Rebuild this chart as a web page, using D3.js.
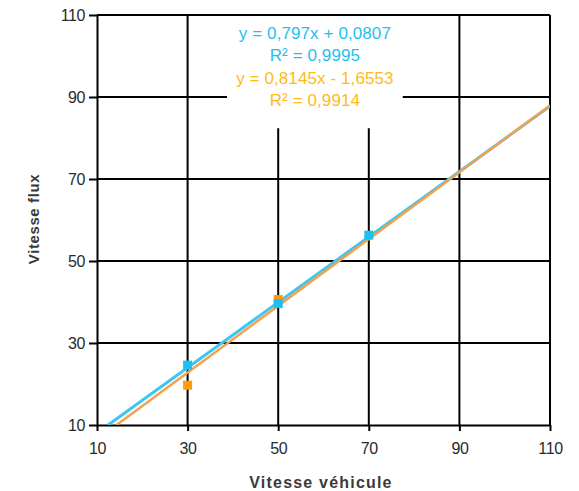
<!DOCTYPE html>
<html>
<head>
<meta charset="utf-8">
<script src="https://cdn.jsdelivr.net/npm/d3@7"></script>
<style>
  body { margin: 0; background: #fff; }
  svg { display: block; font-family: "Liberation Sans", Arial, sans-serif; }
</style>
</head>
<body>
<svg id="chart" width="579" height="491"></svg>
<script>
// data
let xTicks = [10, 30, 50, 70, 90, 110];
let yTicks = [10, 30, 50, 70, 90, 110];
let vehicule = [30, 50, 70];
let fluxBlue = [24.6, 39.6, 56.3];
let vehiculeOrange = [30, 50];
let fluxOrange = [19.7, 40.6];
let blueFit = {slope: 0.797, intercept: 0.0807};
let orangeFit = {slope: 0.8145, intercept: -1.6553};
let labelLines = [
    {text: "y = 0,797x + 0,0807", color: "#1fbff2"},
    {text: "R² = 0,9995", color: "#1fbff2"},
    {text: "y = 0,8145x - 1,6553", color: "#ffba1a"},
    {text: "R² = 0,9914", color: "#ffba1a"}
];

let svg = d3.select("svg#chart"),
    margin = {top: 15, right: 29, bottom: 66, left: 97},
    width = +svg.attr("width") - margin.left - margin.right,
    height = +svg.attr("height") - margin.top - margin.bottom,
    g = svg.append("g").attr("transform", "translate(" + margin.left + "," + margin.top + ")");

let x = d3.scaleLinear().domain([10, 110]).range([0, width]);
let y = d3.scaleLinear().domain([10, 110]).range([height, 0]);

// label box that hides part of the grid
let box = {x0: x(38.7), x1: x(77.5), y0: y(110), y1: y(82.4)};

// grid
let grid = g.append("g").attr("stroke", "#000").attr("stroke-width", 2);
xTicks.slice(1, -1).forEach(function(v) {
    let px = x(v);
    let top = (px > box.x0 && px < box.x1) ? box.y1 : 0;
    grid.append("line").attr("x1", px).attr("x2", px).attr("y1", top).attr("y2", height);
});
yTicks.slice(1, -1).forEach(function(v) {
    let py = y(v);
    if (py > box.y0 && py < box.y1) {
        grid.append("line").attr("x1", 0).attr("x2", box.x0).attr("y1", py).attr("y2", py);
        grid.append("line").attr("x1", box.x1).attr("x2", width).attr("y1", py).attr("y2", py);
    } else {
        grid.append("line").attr("x1", 0).attr("x2", width).attr("y1", py).attr("y2", py);
    }
});
// top and right border
grid.append("line").attr("x1", 0).attr("x2", width).attr("y1", 0).attr("y2", 0);
grid.append("line").attr("x1", width).attr("x2", width).attr("y1", 0).attr("y2", height);

// axes
let xAxis = g.append("g")
    .attr("transform", "translate(0," + height + ")")
    .call(d3.axisBottom(x).tickValues(xTicks).tickSize(6).tickSizeOuter(0));
let yAxis = g.append("g")
    .call(d3.axisLeft(y).tickValues(yTicks).tickSize(8).tickSizeOuter(0));
[xAxis, yAxis].forEach(function(a) {
    a.select(".domain").attr("stroke", "#000").attr("stroke-width", 2);
    a.selectAll(".tick line").attr("stroke", "#000").attr("stroke-width", 2);
    a.selectAll(".tick text").attr("fill", "#2a2a2a").style("font-size", "16px").style("letter-spacing", "-0.4px");
});
xAxis.selectAll(".tick text").attr("y", 9).attr("dy", "1.25em");
yAxis.selectAll(".tick text").attr("x", -12);

// clip for trend lines
g.append("defs").append("clipPath").attr("id", "clip")
    .append("rect").attr("width", width).attr("height", height);

function fitLine(fit) {
    let xs = (10 - fit.intercept) / fit.slope;
    return [[xs, 10], [110, fit.slope * 110 + fit.intercept]];
}
let line = d3.line().x(function(d) { return x(d[0]); }).y(function(d) { return y(d[1]); });

let lines = g.append("g").attr("clip-path", "url(#clip)");
lines.append("path").datum(fitLine(blueFit))
    .attr("d", line).attr("fill", "none").attr("stroke", "#3cc6f2").attr("stroke-width", 3);
lines.append("path").datum(fitLine(orangeFit))
    .attr("d", line).attr("fill", "none").attr("stroke", "#f4a04c").attr("stroke-width", 2.5);

// markers
let s = 9;
g.append("g").selectAll("rect").data(vehiculeOrange).join("rect")
    .attr("x", function(d) { return x(d) - s / 2; })
    .attr("y", function(d, i) { return y(fluxOrange[i]) - s / 2; })
    .attr("width", s).attr("height", s).attr("fill", "#ff9a0a");
g.append("g").selectAll("rect").data(vehicule).join("rect")
    .attr("x", function(d) { return x(d) - s / 2; })
    .attr("y", function(d, i) { return y(fluxBlue[i]) - s / 2; })
    .attr("width", s).attr("height", s).attr("fill", "#1cc0f4");

// equation labels
let cx = (box.x0 + box.x1) / 2;
g.append("g").selectAll("text").data(labelLines).join("text")
    .attr("x", cx)
    .attr("y", function(d, i) { return 24 + i * 22.3; })
    .attr("text-anchor", "middle")
    .attr("fill", function(d) { return d.color; })
    .style("font-size", "17px")
    .style("letter-spacing", "0.1px")
    .text(function(d) { return d.text; });

// axis titles
svg.append("text")
    .attr("x", 321)
    .attr("y", 488)
    .attr("text-anchor", "middle")
    .attr("fill", "#3a3a3a")
    .style("font-size", "16px")
    .style("font-weight", "bold")
    .style("letter-spacing", "1.2px")
    .text("Vitesse véhicule");
svg.append("text")
    .attr("transform", "translate(39," + 219 + ") rotate(-90)")
    .attr("text-anchor", "middle")
    .attr("fill", "#3a3a3a")
    .style("font-size", "15px")
    .style("font-weight", "bold")
    .style("letter-spacing", "0.6px")
    .text("Vitesse flux");
</script>
</body>
</html>
